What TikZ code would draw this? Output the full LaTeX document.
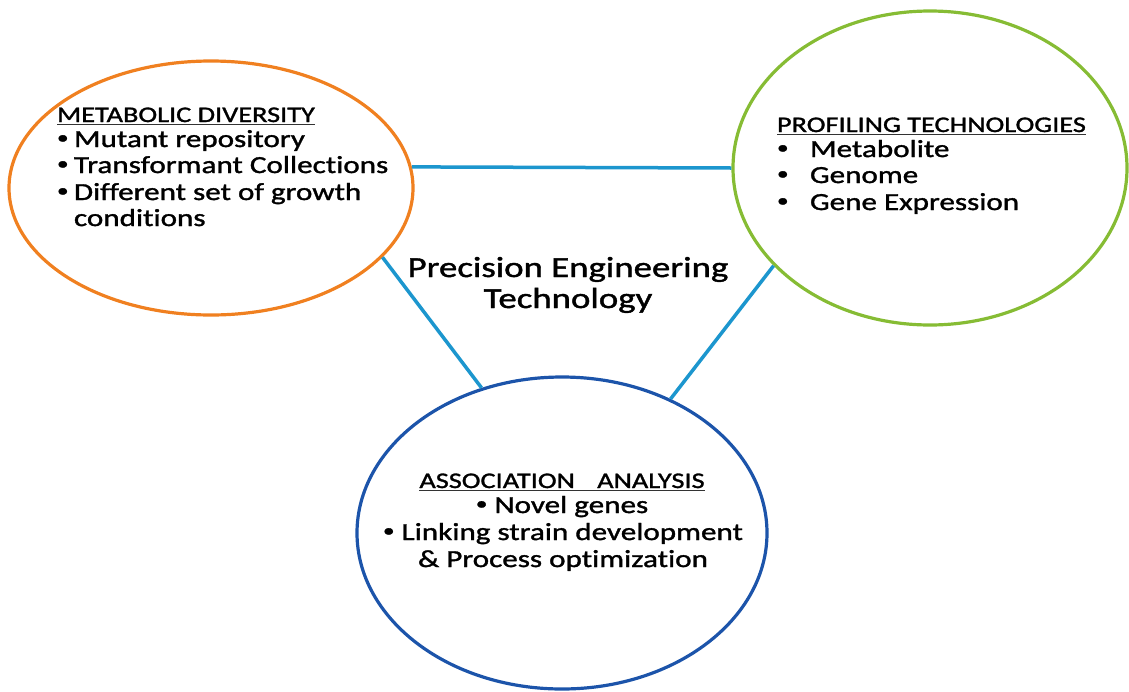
\documentclass[tikz,border=0pt]{standalone}
\usepackage{fontspec}
\setmainfont{Carlito}[FakeStretch=1.27, FakeBold=1.4, Ligatures=NoCommon]
\usetikzlibrary{shapes.geometric}

\definecolor{ringorange}{RGB}{240,128,32}
\definecolor{ringgreen}{RGB}{134,188,52}
\definecolor{ringblue}{RGB}{28,84,170}
\definecolor{linkblue}{RGB}{28,150,206}

\newcommand{\dotmark}{\raisebox{0.14em}{\scalebox{0.75}{•}}}

\tikzset{
  ring/.style={ellipse, draw, line width=3.2pt, inner sep=0pt, fill=none},
  linkline/.style={draw=linkblue, line width=3.5pt},
  txt/.style={inner sep=0pt, outer sep=0pt, anchor=base west, font=\fontsize{24.5}{27}\selectfont},
  ctxt/.style={txt, anchor=base},
  head/.style={txt, font=\fontsize{22.3}{24}\selectfont},
  chead/.style={head, anchor=base},
  uline/.style={draw=black!80, line width=1.3pt},
  title/.style={inner sep=0pt, anchor=base, font=\fontsize{29}{32}\selectfont}
}

\begin{document}
\begin{tikzpicture}[x=1pt, y=-1pt]
  \useasboundingbox (0,0) rectangle (1129,691);

  % the three rings
  \node[ring, draw=ringorange, minimum width=404pt, minimum height=254pt] (md) at (211,188) {};
  \node[ring, draw=ringgreen,  minimum width=394pt, minimum height=314pt] (pt) at (930,168) {};
  \node[ring, draw=ringblue,   minimum width=410pt, minimum height=312pt] (aa) at (562,533) {};

  % links between the rings
  \draw[linkline] (md.6)   -- (pt.180);
  \draw[linkline] (md.-22) -- (aa.119);
  \draw[linkline] (pt.212) -- (aa.51);

  % centre title
  \node[title] (t1) at (568,277) {Precision Engineering};
  \node[title] (t2) at (568,308) {Technology};

  % metabolic diversity
  \node[head] (mdh) at (57,122) {METABOLIC DIVERSITY};
  \draw[uline] ([yshift=-2.5pt]mdh.base west) -- ([yshift=-2.5pt]mdh.base east);
  \node[txt] (mdb1) at (57,147) {\dotmark};
  \node[txt] (md1) at (74,147) {Mutant repository};
  \node[txt] (mdb2) at (57,173) {\dotmark};
  \node[txt] (md2) at (74,173) {Transformant Collections};
  \node[txt] (mdb3) at (57,200) {\dotmark};
  \node[txt] (md3) at (74,200) {Different set of growth};
  \node[txt] (md4) at (74,226) {conditions};

  % profiling technologies
  \node[head] (pth) at (777,132) {PROFILING TECHNOLOGIES};
  \draw[uline] ([yshift=-2.5pt]pth.base west) -- ([yshift=-2.5pt]pth.base east);
  \node[txt] (ptb1) at (777,157) {\dotmark};
  \node[txt] (pt1) at (810,157) {Metabolite};
  \node[txt] (ptb2) at (777,183) {\dotmark};
  \node[txt] (pt2) at (810,183) {Genome};
  \node[txt] (ptb3) at (777,210) {\dotmark};
  \node[txt] (pt3) at (810,210) {Gene Expression};

  % association analysis
  \node[chead] (aah) at (562,488) {ASSOCIATION\hspace{1em}ANALYSIS};
  \draw[uline] ([yshift=-2.5pt]aah.base west) -- ([yshift=-2.5pt]aah.base east);
  \node[ctxt] (aa1) at (562,513) {\dotmark{} Novel genes};
  \node[ctxt] (aa2) at (563,540) {\dotmark{} Linking strain development};
  \node[ctxt] (aa3) at (563,567) {\& Process optimization};
\end{tikzpicture}
\end{document}
